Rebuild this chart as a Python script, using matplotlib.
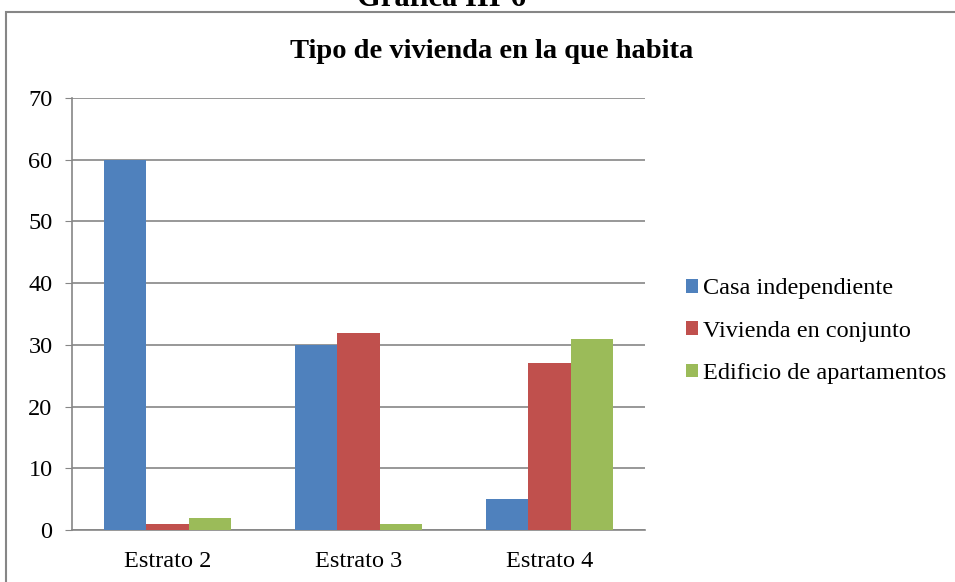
import matplotlib.pyplot as plt
import numpy as np
from matplotlib.patches import Rectangle

categories = ['Estrato 2', 'Estrato 3', 'Estrato 4']
series_names = ['Casa independiente', 'Vivienda en conjunto', 'Edificio de apartamentos']
casa = [60, 30, 5]
conjunto = [1, 32, 27]
edificio = [2, 1, 31]
colors = ['#4F81BD', '#C0504D', '#9BBB59']

plt.rcParams['font.family'] = ['Liberation Serif', 'DejaVu Serif']

fig = plt.figure(figsize=(9.55, 5.82), dpi=100)
ax = fig.add_axes([72 / 955, 1 - 530 / 582, (645 - 72) / 955, (530 - 98) / 582])

# outer frame of the chart, cut at the right and bottom
fig.patches.append(Rectangle((6 / 955, -0.05), 1.0, 1 - 12 / 582 + 0.05,
                             transform=fig.transFigure, fill=False,
                             edgecolor='#868686', linewidth=1.5))

fig.text(0.462, 1 - 6 / 582, 'Gráfica III-6', ha='center', va='baseline',
         fontsize=22, fontweight='bold')
fig.text(0.515, 1 - 52 / 582, 'Tipo de vivienda en la que habita', ha='center',
         va='center', fontsize=20.5, fontweight='bold')

x = np.arange(len(categories))
w = 1 / 4.5
for i, (vals, name) in enumerate(zip([casa, conjunto, edificio], series_names)):
    ax.bar(x + (i - 1) * w, vals, w, color=colors[i], label=name, zorder=3)

ax.set_xlim(-0.5, 2.5)
ax.set_ylim(0, 70)
ax.set_yticks(range(0, 71, 10))
ax.set_xticks(x)
ax.set_xticklabels(categories)
ax.yaxis.grid(True, color='#868686', linewidth=1.2, zorder=0)
for s in ['top', 'right']:
    ax.spines[s].set_visible(False)
for s in ['left', 'bottom']:
    ax.spines[s].set_color('#868686')
    ax.spines[s].set_linewidth(1.2)
ax.tick_params(axis='y', length=5, color='#868686', labelsize=17.5, pad=9)
ax.tick_params(axis='x', length=0, labelsize=17.5, pad=15)

ax.legend(loc='center left', bbox_to_anchor=(1.05, 0.46), frameon=False,
          fontsize=17.5, handlelength=0.5, handleheight=0.5, handletextpad=0.2,
          labelspacing=0.88, borderpad=0)

fig.savefig('out.png', dpi=100)
